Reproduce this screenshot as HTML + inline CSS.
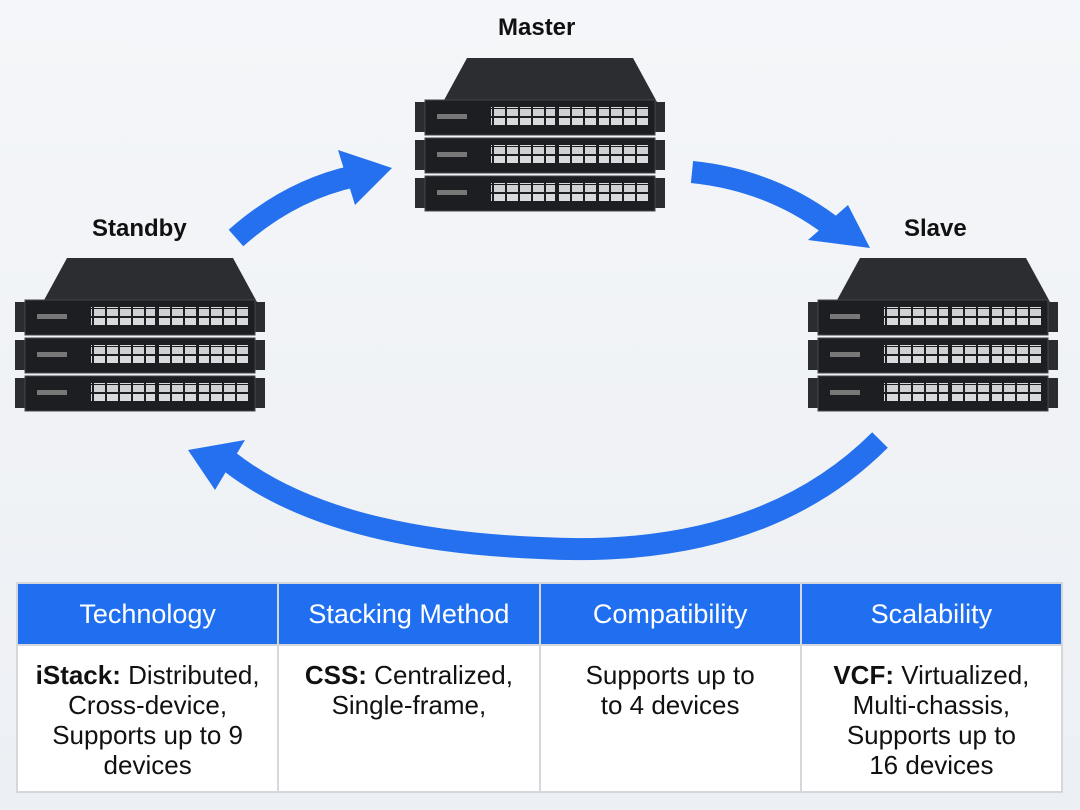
<!DOCTYPE html>
<html><head><meta charset="utf-8"><style>
body{margin:0;width:1080px;height:810px;background:linear-gradient(#f4f6f9,#eceff3);font-family:"Liberation Sans",sans-serif;position:relative;overflow:hidden}
.lbl{position:absolute;font-weight:bold;font-size:24px;color:#111}
table{position:absolute;left:16px;top:582px;width:1047px;height:211px;border-collapse:collapse;background:#fff}
td,th{border:2px solid #d4d7dc;text-align:center;width:25%}
th{background:#1f6ff0;color:#fff;font-weight:normal;font-size:27px;height:58px;border-color:#d4d7dc}
td{vertical-align:top;font-size:26px;line-height:30px;padding-top:14px;color:#111}
</style></head><body>
<svg width="1080" height="810" style="position:absolute;left:0;top:0">
<defs>
<pattern id="pt" width="13" height="17" patternUnits="userSpaceOnUse"><rect x="1" y="1" width="11" height="7" fill="#d8dadc"/><rect x="1" y="9" width="11" height="7" fill="#cfd1d3"/></pattern>
<g id="unit">
<rect x="0" y="2" width="14" height="30" fill="#2a2c30"/><rect x="236" y="2" width="14" height="30" fill="#2a2c30"/>
<rect x="10" y="0" width="230" height="35" fill="#1c1e22" stroke="#44474c"/>
<rect x="76" y="7" width="64" height="18" fill="url(#pt)"/>
<rect x="143" y="7" width="38" height="18" fill="url(#pt)"/>
<rect x="184" y="7" width="50" height="18" fill="url(#pt)"/>
<rect x="22" y="14" width="30" height="5" fill="#777"/>
</g>
<g id="sw">
<polygon points="28,44 52,0 218,0 242,44" fill="#2b2d31"/>
<use href="#unit" y="42"/><use href="#unit" y="80"/><use href="#unit" y="118"/>
</g>
</defs>
<use href="#sw" x="415" y="58"/>
<use href="#sw" x="15" y="258"/>
<use href="#sw" x="808" y="258"/>
<g fill="none" stroke="#2470ee" stroke-width="22">
<path d="M236,238 Q290,190 355,176"/>
<path d="M692,172 Q770,180 830,225"/>
<path d="M880,440 Q760,560 540,548 Q330,540 230,462"/>
</g>
<g fill="#2470ee">
<polygon points="392,168 338,150 355,205"/>
<polygon points="870,248 848,205 808,240"/>
<polygon points="188,450 245,440 215,490"/>
</g>
</svg>
<div class="lbl" style="left:498px;top:14px">Master</div>
<div class="lbl" style="left:92px;top:215px">Standby</div>
<div class="lbl" style="left:904px;top:215px">Slave</div>
<table>
<tr><th>Technology</th><th>Stacking Method</th><th>Compatibility</th><th>Scalability</th></tr>
<tr><td><b>iStack:</b> Distributed,<br>Cross-device,<br>Supports up to 9<br>devices</td><td><b>CSS:</b> Centralized,<br>Single-frame,</td><td>Supports up to<br>to 4 devices</td><td><b>VCF:</b> Virtualized,<br>Multi-chassis,<br>Supports up to<br>16 devices</td></tr>
</table>
</body></html>
